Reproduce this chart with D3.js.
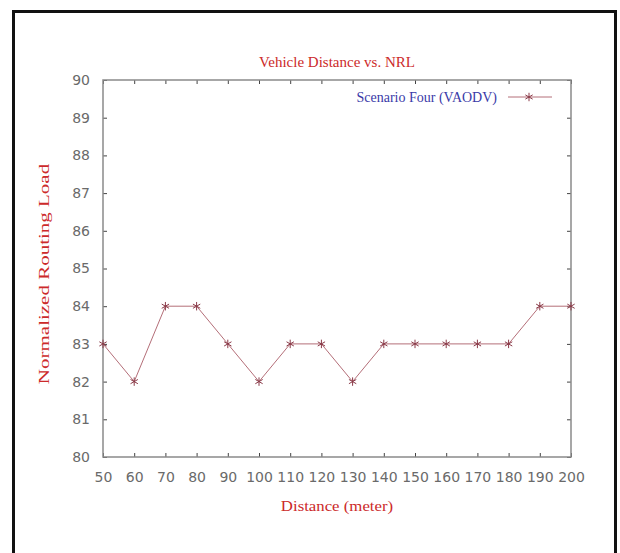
<!DOCTYPE html>
<html>
<head>
<meta charset="utf-8">
<script src="https://cdn.jsdelivr.net/npm/d3@7"></script>
<style>
  body { margin: 0; background: #fff; }
  svg { display: block; }
</style>
</head>
<body>
<svg width="620" height="553"></svg>
<script>
var distances = [50, 60, 70, 80, 90, 100, 110, 120, 130, 140, 150, 160, 170, 180, 190, 200];
var nrl = [83, 82, 84, 84, 83, 82, 83, 83, 82, 83, 83, 83, 83, 83, 84, 84];
var yTicks = [80, 81, 82, 83, 84, 85, 86, 87, 88, 89, 90];
var seriesName = "Scenario Four (VAODV)";

var svg = d3.select("svg"),
  margin = { left: 103, right: 49, top: 80, bottom: 96 },
  width = 620 - margin.left - margin.right,
  height = 553 - margin.top - margin.bottom;

var serif = "'Liberation Serif', 'DejaVu Serif', serif",
  sans = "'DejaVu Sans', sans-serif",
  lineColor = "#b46e78",
  markColor = "#8a3a48";

// outer frame (no bottom edge)
svg.append("path")
  .attr("d", "M13.5,553V11.5H615.5V553")
  .attr("fill", "none")
  .attr("stroke", "#111")
  .attr("stroke-width", 3);

var g = svg.append("g").attr("transform", "translate(" + margin.left + "," + margin.top + ")");

var x = d3.scaleLinear().domain([50, 200]).range([0, width]);
var y = d3.scaleLinear().domain([80, 90]).range([height, 0]);

// inward ticks on all four sides, gnuplot style
function ticks(axis, sel) {
  sel.call(axis);
  sel.select(".domain").remove();
  sel.selectAll("line").attr("stroke", "#444");
}
g.append("g").attr("transform", "translate(0," + height + ")")
  .call(function (s) { ticks(d3.axisBottom(x).tickValues(distances).tickSizeInner(-4).tickSizeOuter(0).tickPadding(15), s); });
g.append("g")
  .call(function (s) { ticks(d3.axisTop(x).tickValues(distances).tickSizeInner(-4).tickSizeOuter(0).tickFormat(""), s); });
g.append("g")
  .call(function (s) { ticks(d3.axisLeft(y).tickValues(yTicks).tickSizeInner(-4).tickSizeOuter(0).tickPadding(13), s); });
g.append("g").attr("transform", "translate(" + width + ",0)")
  .call(function (s) { ticks(d3.axisRight(y).tickValues(yTicks).tickSizeInner(-4).tickSizeOuter(0).tickFormat(""), s); });

g.selectAll(".tick text")
  .attr("font-family", sans)
  .attr("font-size", 14)
  .attr("fill", "#6a6a6a");

g.append("rect")
  .attr("width", width)
  .attr("height", height)
  .attr("fill", "none")
  .attr("stroke", "#8a8a8a")
  .attr("stroke-width", 1.5);

// series
var pts = distances.map(function (d, i) { return [d, nrl[i]]; });

g.append("path")
  .datum(pts)
  .attr("fill", "none")
  .attr("stroke", lineColor)
  .attr("stroke-width", 1)
  .attr("d", d3.line().x(function (d) { return x(d[0]); }).y(function (d) { return y(d[1]); }));

var star = d3.symbol().type(d3.symbolAsterisk).size(50);
g.selectAll(".pt")
  .data(pts)
  .enter().append("path")
  .attr("class", "pt")
  .attr("transform", function (d) { return "translate(" + x(d[0]) + "," + y(d[1]) + ")"; })
  .attr("d", star)
  .attr("fill", "none")
  .attr("stroke", markColor)
  .attr("stroke-width", 1);

// legend
var legend = g.append("g").attr("transform", "translate(" + (width - 74) + ",17)");
legend.append("text")
  .attr("text-anchor", "end")
  .attr("dy", "0.35em")
  .attr("font-family", serif)
  .attr("font-size", 14)
  .attr("fill", "#3a3aa8")
  .text(seriesName);
legend.append("line")
  .attr("x1", 11).attr("x2", 55)
  .attr("stroke", lineColor);
legend.append("path")
  .attr("transform", "translate(32,0)")
  .attr("d", star)
  .attr("fill", "none")
  .attr("stroke", markColor);

// titles
svg.append("text")
  .attr("x", margin.left + width / 2)
  .attr("y", 67)
  .attr("text-anchor", "middle")
  .attr("font-family", serif)
  .attr("font-size", 15)
  .attr("fill", "#cc2a2a")
  .text("Vehicle Distance vs. NRL");

svg.append("text")
  .attr("transform", "translate(" + (margin.left + width / 2) + ",511)scale(1.12,1)")
  .attr("text-anchor", "middle")
  .attr("font-family", serif)
  .attr("font-size", 15)
  .attr("fill", "#cc2a2a")
  .text("Distance (meter)");

svg.append("text")
  .attr("transform", "translate(49,274)rotate(-90)scale(1.4,1)")
  .attr("text-anchor", "middle")
  .attr("font-family", serif)
  .attr("font-size", 15)
  .attr("fill", "#cc2a2a")
  .text("Normalized Routing Load");
</script>
</body>
</html>
